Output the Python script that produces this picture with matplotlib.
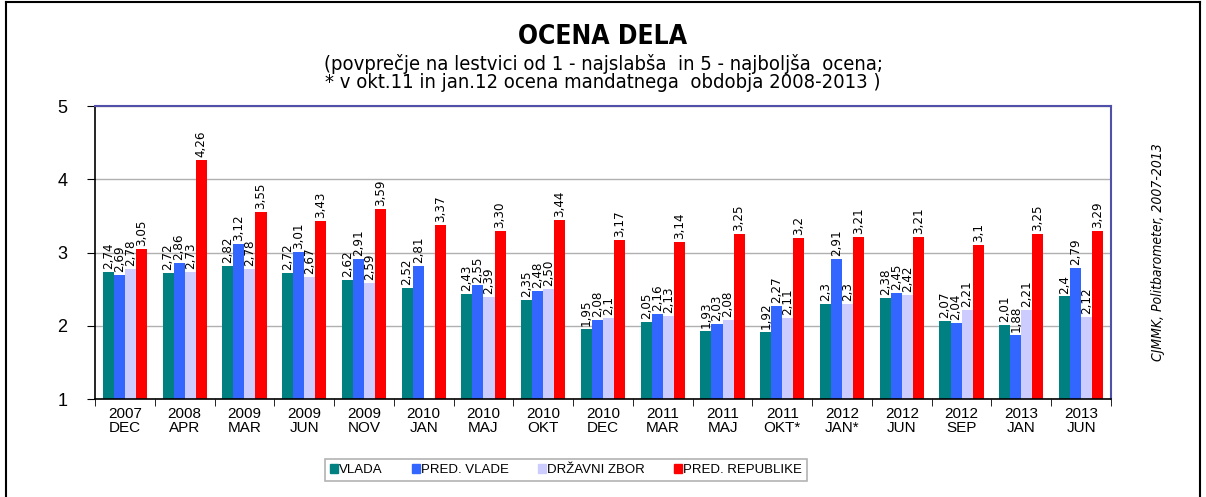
import numpy as np
import matplotlib
matplotlib.use("Agg")
from matplotlib import pyplot as plt
from matplotlib.patches import Rectangle
from matplotlib.lines import Line2D

# podatki
periods = ["2007\nDEC", "2008\nAPR", "2009\nMAR", "2009\nJUN", "2009\nNOV", "2010\nJAN",
           "2010\nMAJ", "2010\nOKT", "2010\nDEC", "2011\nMAR", "2011\nMAJ", "2011\nOKT*",
           "2012\nJAN*", "2012\nJUN", "2012\nSEP", "2013\nJAN", "2013\nJUN"]
vlada = ["2,74", "2,72", "2,82", "2,72", "2,62", "2,52", "2,43", "2,35", "1,95", "2,05",
         "1,93", "1,92", "2,3", "2,38", "2,07", "2,01", "2,4"]
pred_vlade = ["2,69", "2,86", "3,12", "3,01", "2,91", "2,81", "2,55", "2,48", "2,08", "2,16",
              "2,03", "2,27", "2,91", "2,45", "2,04", "1,88", "2,79"]
drzavni_zbor = ["2,78", "2,73", "2,78", "2,67", "2,59", "", "2,39", "2,50", "2,1", "2,13",
                "2,08", "2,11", "2,3", "2,42", "2,21", "2,21", "2,12"]
pred_republike = ["3,05", "4,26", "3,55", "3,43", "3,59", "3,37", "3,30", "3,44", "3,17", "3,14",
                  "3,25", "3,2", "3,21", "3,21", "3,1", "3,25", "3,29"]

series = [("VLADA", vlada, "#008080"),
          ("PRED. VLADE", pred_vlade, "#3366FF"),
          ("DRŽAVNI ZBOR", drzavni_zbor, "#CCCCFF"),
          ("PRED. REPUBLIKE", pred_republike, "#FF0000")]

cond = dict(family="DejaVu Sans", fontstretch="condensed")
arial = ["Liberation Sans", "DejaVu Sans"]

fig = plt.figure(figsize=(12.06, 4.97), dpi=100)
ax = fig.add_axes([95 / 1206, 1 - 399 / 497, (1111 - 95) / 1206, (399 - 106) / 497])

x = np.arange(len(periods))
w = 0.185
for i, (name, vals, col) in enumerate(series):
    v = np.array([float(s.replace(",", ".")) if s else np.nan for s in vals])
    pos = x + (i - 1.5) * w
    ax.bar(pos, v - 1, w, bottom=1, color=col, label=name, zorder=2)
    for p, val, s in zip(pos, v, vals):
        if s:
            ax.text(p, val + 0.04, s, rotation=90, ha="center", va="bottom",
                    fontsize=9.5, zorder=3, **cond)

ax.set_ylim(1, 5)
ax.set_xlim(-0.5, len(periods) - 0.5)
ax.set_yticks([1, 2, 3, 4, 5])
ax.set_yticklabels(["1", "2", "3", "4", "5"], family=arial, fontsize=13)
ax.yaxis.grid(True, color="#b0b0b0", linewidth=1, zorder=0)
ax.set_xticks(x)
ax.set_xticklabels(periods, family=arial, fontsize=11, linespacing=0.95)
ax.set_xticks(np.arange(len(periods) + 1) - 0.5, minor=True)
ax.tick_params(axis="x", which="major", length=0, pad=6)
ax.tick_params(axis="x", which="minor", length=5, direction="out", color="black")
ax.tick_params(axis="y", length=6, direction="out", color="black", pad=14)
for sp in ["top", "right"]:
    ax.spines[sp].set_color("#5050a8")
    ax.spines[sp].set_linewidth(1.5)
ax.spines["left"].set_color("black")
ax.spines["bottom"].set_color("black")
ax.spines["left"].set_linewidth(1.2)
ax.spines["bottom"].set_linewidth(1.2)

fig.text(0.5, 1 - 37 / 497, "OCENA DELA", ha="center", va="center",
         fontsize=19, fontweight="bold", **cond)
fig.text(0.5, 1 - 73 / 497,
         "(povprečje na lestvici od 1 - najslabša  in 5 - najboljša  ocena;\n"
         "* v okt.11 in jan.12 ocena mandatnega  obdobja 2008-2013 )",
         ha="center", va="center", fontsize=14.5, linespacing=1.0, **cond)
fig.text(1158 / 1206, 1 - 252 / 497, "CJMMK, Politbarometer, 2007-2013", rotation=90,
         ha="center", va="center", fontsize=10, style="italic", **cond)

handles = [Rectangle((0, 0), 1, 1, color=c) for _, _, c in series]
leg = fig.legend(handles, [n for n, _, _ in series], loc="center",
                 bbox_to_anchor=(566 / 1206, 1 - 470 / 497), ncol=4, frameon=True,
                 prop={"family": arial, "size": 9.5}, handlelength=0.6, handleheight=0.6,
                 handletextpad=0.1, columnspacing=2.2, borderpad=0.4, borderaxespad=0,
                 fancybox=False)
leg.get_frame().set_edgecolor("#a0a0a0")
leg.get_frame().set_linewidth(1.2)

# okvir slike
fig.add_artist(Line2D([6 / 1206, 6 / 1206], [0, 1 - 2 / 497], color="black", lw=1.5))
fig.add_artist(Line2D([6 / 1206, 1200 / 1206], [1 - 2 / 497, 1 - 2 / 497], color="black", lw=1.5))
fig.add_artist(Line2D([1200 / 1206, 1200 / 1206], [0, 1 - 2 / 497], color="black", lw=1.5))

fig.savefig("out.png", dpi=100)
